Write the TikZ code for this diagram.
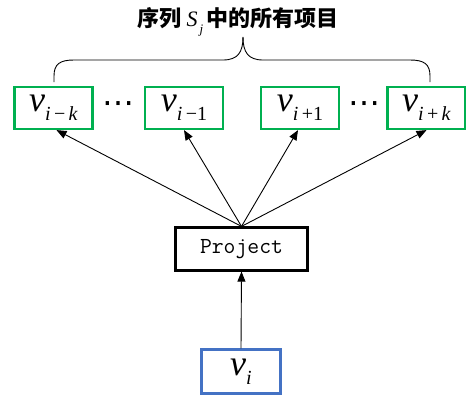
\documentclass[tikz,border=0pt]{standalone}
\usepackage{fontspec}
\setmainfont{Liberation Serif}
\newfontfamily\timesf{Liberation Serif}
\newfontfamily\dejaf{DejaVu Sans}
\newfontfamily\cjk{Noto Sans CJK SC}
\usetikzlibrary{arrows.meta}
\definecolor{boxgreen}{RGB}{0,176,80}
\definecolor{boxblue}{RGB}{68,114,196}
\tikzset{
  itembox/.style={draw=boxgreen, line width=2.2pt, minimum width=78pt, minimum height=42pt, inner sep=0pt},
  projbox/.style={draw=black, line width=2.2pt, minimum width=132pt, minimum height=43pt, inner sep=0pt, font=\fontsize{23}{23}\ttfamily},
  inbox/.style={draw=boxblue, line width=2.2pt, minimum width=79pt, minimum height=44pt, inner sep=0pt},
  arr/.style={-{Triangle[length=10pt,width=8pt]}, line width=0.9pt},
  dotsnode/.style={inner sep=0pt, font=\dejaf\fontsize{32}{32}\selectfont}
}
\newcommand{\vsub}[1]{{\timesf\fontsize{36}{36}\selectfont\itshape v}\raisebox{-9pt}{\timesf\fontsize{20}{20}\selectfont #1}}
\begin{document}
\begin{tikzpicture}[x=1pt,y=-1pt]
\useasboundingbox (0,0) rectangle (466,394);
\node[itembox] (b1) at (53.5,108) {\vsub{\textit{i}\,−\,\textit{k}}};
\node[itembox] (b2) at (184,108) {\vsub{\textit{i}\,−1}};
\node[itembox] (b3) at (300,108) {\vsub{\textit{i}\,+1}};
\node[itembox] (b4) at (426.5,108) {\vsub{\textit{i}\,+\,\textit{k}}};
\node[dotsnode] (d1) at (118.5,108) {⋯};
\node[dotsnode] (d2) at (364,108) {⋯};
\node[projbox] (p) at (241.5,249) {Project};
\node[inner sep=0pt] (title) at (238,22) {{\cjk\bfseries\fontsize{22}{22}\selectfont 序列}\hspace{5pt}{\timesf\fontsize{22}{22}\selectfont\itshape S}\hspace{2pt}\raisebox{-7pt}{\timesf\fontsize{13}{13}\selectfont\itshape j}\hspace{3pt}{\cjk\bfseries\fontsize{22}{22}\selectfont 中的所有项目}};
\node[inbox] (vi) at (241,371.5) {\vsub{\textit{i}}};
\coordinate (bl) at (54,82);
\coordinate (br) at (430,82);
\coordinate (bt) at (243,37);
\draw[line width=0.9pt] (bl) -- (54,76) .. controls (54,64) and (60,60) .. (74,60) -- (223,60) .. controls (238,60) and (243,52) .. (bt);
\draw[line width=0.9pt] (br) -- (430,76) .. controls (430,64) and (424,60) .. (410,60) -- (263,60) .. controls (248,60) and (243,52) .. (bt);
\draw[arr] (p.north) -- ([xshift=3pt]b1.south);
\draw[arr] (p.north) -- (b2.south);
\draw[arr] (p.north) -- ([xshift=-2pt]b3.south);
\draw[arr] (p.north) -- (b4.south);
\draw[arr] (vi.north) -- (p.south);
\end{tikzpicture}
\end{document}
